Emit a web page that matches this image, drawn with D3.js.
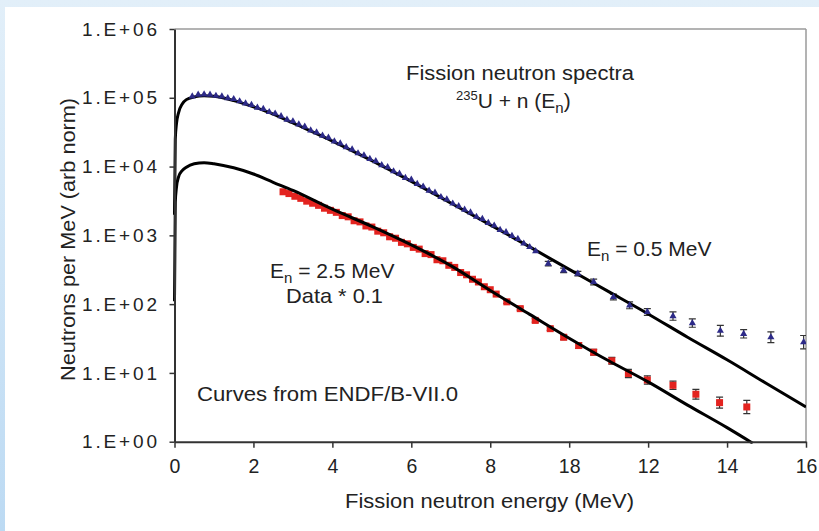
<!DOCTYPE html>
<html>
<head>
<meta charset="utf-8">
<script src="https://cdn.jsdelivr.net/npm/d3@7"></script>
<style>
  body { margin: 0; background: #fff; }
  svg { display: block; font-family: "Liberation Sans", Arial, sans-serif; }
</style>
</head>
<body>
<svg id="chart" width="819" height="531"></svg>
<script>
// ENDF/B-VII.0 curves
var curveE = [0, 0.02, 0.05, 0.1, 0.2, 0.3, 0.5, 0.75, 1.0, 1.5, 2, 2.5, 3, 4, 5, 6, 7, 8, 9, 10, 11, 12, 13, 14, 15, 16]
var curveHigh = [2000, 25000, 42000, 60000, 82000, 94000, 103000, 107000, 105000, 91000, 74000, 58000, 43000,
                 23500, 12200, 6100, 2950, 1420, 680, 320, 152, 72, 33, 15.5, 7, 3.2]
var curveLowE = [0, 0.02, 0.05, 0.1, 0.2, 0.3, 0.5, 0.75, 1.0, 1.5, 2, 2.5, 3, 4, 5, 6, 7, 8, 9, 10, 11, 12, 13, 14, 14.65]
var curveLow = [110, 3000, 5000, 7000, 8800, 9800, 11000, 11400, 11000, 9600, 7800, 5900, 4500,
                2400, 1350, 725, 363, 158, 71, 32, 15, 7.4, 3.4, 1.6, 0.95]

// En = 0.5 MeV data (blue)
var blueE = [0.45, 0.6, 0.75, 0.9, 1.05, 1.2, 1.35, 1.5, 1.65, 1.8, 1.95, 2.1, 2.25, 2.4, 2.55, 2.7, 2.85, 3.0,
             3.15, 3.3, 3.45, 3.6, 3.75, 3.9, 4.05, 4.2, 4.35, 4.5, 4.65, 4.8, 4.95, 5.1, 5.25, 5.4, 5.55, 5.7,
             5.85, 6.0, 6.15, 6.3, 6.45, 6.6, 6.75, 6.9, 7.05, 7.2, 7.35, 7.5, 7.65, 7.8, 7.95, 8.1, 8.25, 8.4,
             8.55, 8.7, 8.85, 9.0, 9.15,
             9.47, 9.86, 10.22, 10.62, 11.12, 11.53, 11.98, 12.63, 13.12, 13.83, 14.42, 15.11, 15.94]
var blueVal = [105000, 111000, 112000, 111000, 107000, 105000, 99000, 96000, 89000, 83000, 79000, 72000,
               69000, 62000, 59000, 54000, 48000, 45500, 41000, 38000, 33500, 31300, 28100, 26300, 23200, 21700,
               19200, 17800, 15600, 14600, 12900, 12000, 10500, 9800, 8550, 7900, 6850, 6450, 5600, 5130, 4470,
               4180, 3610, 3330, 2900, 2660, 2360, 2160, 1860, 1730, 1520, 1390, 1200, 1110, 980, 890, 760, 676, 590,
               388, 310, 278, 210, 127, 96, 77, 67, 53, 41, 37, 33, 28]
var blueErr = [0, 0, 0, 0, 0, 0, 0, 0, 0, 0, 0, 0, 0, 0, 0, 0, 0, 0, 0, 0, 0, 0, 0, 0, 0, 0, 0, 0, 0, 0,
               0, 0, 0, 0, 0, 0, 0, 0, 0, 0, 0, 0, 0, 0, 0, 0, 0, 0, 0, 0, 0, 0, 0, 0, 0, 0, 0, 0, 0,
               0.08, 0.08, 0.08, 0.1, 0.1, 0.12, 0.12, 0.15, 0.15, 0.2, 0.15, 0.2, 0.25]

// En = 2.5 MeV data * 0.1 (red)
var redE = [2.75, 2.9, 3.05, 3.2, 3.35, 3.5, 3.65, 3.8, 3.95, 4.1, 4.25, 4.4, 4.55, 4.7, 4.85, 5.0, 5.15, 5.3,
            5.45, 5.6, 5.75, 5.9, 6.05, 6.2, 6.35, 6.5, 6.65, 6.8, 6.95, 7.1, 7.25, 7.4, 7.55, 7.7, 7.85, 8.0, 8.15,
            8.42, 8.76, 9.14, 9.52, 9.86, 10.24, 10.62, 11.08, 11.5, 11.98, 12.63, 13.21, 13.81, 14.5]
var redVal = [4300, 4050, 3700, 3450, 3140, 2930, 2730, 2480, 2310, 2160, 1940, 1860, 1630, 1570, 1370, 1320,
              1150, 1090, 953, 908, 791, 753, 668, 631, 543, 525, 442, 427, 367, 342, 288, 267, 230, 210, 179, 162, 140,
              108, 86, 58, 44, 33, 25, 20, 15, 9.8, 7.9, 6.6, 4.9, 3.7, 3.2]
var redErr = [0, 0, 0, 0, 0, 0, 0, 0, 0, 0, 0, 0, 0, 0, 0, 0, 0, 0, 0, 0, 0, 0, 0, 0, 0, 0, 0, 0, 0, 0, 0, 0, 0, 0, 0, 0, 0,
              0.05, 0.05, 0.06, 0.06, 0.08, 0.1, 0.1, 0.12, 0.15, 0.15, 0.15, 0.18, 0.2, 0.25]

var xTicks = [0, 2, 4, 6, 8, 10, 12, 14, 16]
var xTickLabels = ["0", "2", "4", "6", "8", "18", "12", "14", "16"]
var yTicks = [1, 10, 100, 1000, 10000, 100000, 1000000]
var yTickLabels = ["1.E+00", "1.E+01", "1.E+02", "1.E+03", "1.E+04", "1.E+05", "1.E+06"]

var svg = d3.select("#chart")
var W = 819, H = 531
var pLeft = 174.5, pRight = 806, pTop = 29, pBottom = 441.7

// light blue frame
var grad = svg.append("defs").append("linearGradient").attr("id", "bg")
    .attr("x1", 0).attr("y1", 0).attr("x2", 0).attr("y2", 1)
grad.append("stop").attr("offset", "0%").attr("stop-color", "#e2eff9")
grad.append("stop").attr("offset", "100%").attr("stop-color", "#bcdaf3")
svg.append("rect").attr("width", W).attr("height", H).attr("fill", "url(#bg)")
svg.append("rect").attr("x", 5).attr("y", 7).attr("width", W - 5).attr("height", H - 7).attr("fill", "#fff")

var x = d3.scaleLinear().domain([0, 16]).range([pLeft, pRight])
var y = d3.scaleLog().domain([1, 1e6]).range([pBottom, pTop])

svg.append("defs").append("clipPath").attr("id", "clip")
  .append("rect").attr("x", pLeft - 2).attr("y", pTop).attr("width", pRight - pLeft + 2).attr("height", pBottom - pTop + 2)

// frame top / right
svg.append("line").attr("x1", pLeft).attr("x2", pRight).attr("y1", pTop).attr("y2", pTop)
  .attr("stroke", "#9a9a9a").attr("stroke-width", 1.5)
svg.append("line").attr("x1", pRight).attr("x2", pRight).attr("y1", pTop).attr("y2", pBottom)
  .attr("stroke", "#9a9a9a").attr("stroke-width", 1.5)

var g = svg.append("g").attr("clip-path", "url(#clip)")

function errBars(E, V, Er) {
  var pts = E.map((e, i) => ({e: e, v: V[i], err: Er[i]})).filter(d => d.err > 0)
  var eb = g.append("g").attr("stroke", "#333").attr("stroke-width", 1.2)
  eb.selectAll("line.v").data(pts).join("line").attr("class", "v")
    .attr("x1", d => x(d.e)).attr("x2", d => x(d.e))
    .attr("y1", d => y(d.v * (1 + d.err))).attr("y2", d => y(d.v / (1 + d.err)))
  eb.selectAll("line.t").data(pts).join("line").attr("class", "t")
    .attr("x1", d => x(d.e) - 3.5).attr("x2", d => x(d.e) + 3.5)
    .attr("y1", d => y(d.v * (1 + d.err))).attr("y2", d => y(d.v * (1 + d.err)))
  eb.selectAll("line.b").data(pts).join("line").attr("class", "b")
    .attr("x1", d => x(d.e) - 3.5).attr("x2", d => x(d.e) + 3.5)
    .attr("y1", d => y(d.v / (1 + d.err))).attr("y2", d => y(d.v / (1 + d.err)))
}

errBars(blueE, blueVal, blueErr)
errBars(redE, redVal, redErr)

// red squares
g.selectAll(".red").data(redE).join("rect").attr("class", "red")
  .attr("x", d => x(d) - 3.5).attr("y", (d, i) => y(redVal[i]) - 3.5)
  .attr("width", 7).attr("height", 7).attr("fill", "#e3231f")

// curves
var line = d3.line().x(d => x(d[0])).y(d => y(d[1])).curve(d3.curveMonotoneX)
g.append("path").datum(curveE.map((e, i) => [e, curveHigh[i]]))
  .attr("d", line).attr("fill", "none").attr("stroke", "#000").attr("stroke-width", 3)
g.append("path").datum(curveLowE.map((e, i) => [e, curveLow[i]]))
  .attr("d", line).attr("fill", "none").attr("stroke", "#000").attr("stroke-width", 3)

// blue triangles (drawn over the curve)
var tri = d3.symbol().type(d3.symbolTriangle).size(22)
g.selectAll(".blue").data(blueE).join("path").attr("class", "blue")
  .attr("transform", (d, i) => `translate(${x(d)},${y(blueVal[i])})`)
  .attr("d", tri).attr("fill", "#2d2a88")

// axes
var xAxis = svg.append("g").attr("transform", `translate(0,${pBottom})`)
  .call(d3.axisBottom(x).tickValues(xTicks).tickFormat((d, i) => xTickLabels[i])
    .tickSize(6).tickSizeOuter(0).tickPadding(11))
xAxis.select(".domain").attr("stroke", "#333").attr("stroke-width", 2)
xAxis.selectAll(".tick line").attr("stroke", "#333").attr("stroke-width", 1.5)
xAxis.selectAll("text").attr("font-size", 19.5).attr("fill", "#222")
  .attr("font-family", "'Liberation Sans', Arial, sans-serif")

var yAxis = svg.append("g").attr("transform", `translate(${pLeft},0)`)
  .call(d3.axisLeft(y).tickValues(yTicks).tickFormat((d, i) => yTickLabels[i])
    .tickSize(5).tickSizeOuter(0).tickPadding(12.5))
yAxis.select(".domain").attr("stroke", "#333").attr("stroke-width", 2)
yAxis.selectAll(".tick line").attr("stroke", "#333").attr("stroke-width", 1.5)
yAxis.selectAll("text").attr("font-size", 19).attr("fill", "#222")
  .attr("font-family", "'Liberation Sans', Arial, sans-serif")
  .attr("textLength", 75).attr("lengthAdjust", "spacing")

// axis titles
svg.append("text").attr("x", 345).attr("y", 508).attr("font-size", 20).attr("fill", "#222")
  .attr("textLength", 289).attr("lengthAdjust", "spacingAndGlyphs")
  .text("Fission neutron energy (MeV)")
svg.append("text").attr("transform", "translate(75,239.5) rotate(-90)").attr("text-anchor", "middle")
  .attr("font-size", 21).attr("fill", "#222").attr("textLength", 283).attr("lengthAdjust", "spacingAndGlyphs")
  .text("Neutrons per MeV (arb norm)")

// annotations
svg.append("text").attr("x", 406).attr("y", 80).attr("font-size", 20).attr("fill", "#222")
  .attr("textLength", 228).attr("lengthAdjust", "spacingAndGlyphs").text("Fission neutron spectra")

var t2 = svg.append("text").attr("x", 456).attr("y", 108).attr("font-size", 21).attr("fill", "#222")
t2.append("tspan").attr("font-size", 13).attr("dy", -8).text("235")
t2.append("tspan").attr("dy", 8).text("U + n (E")
t2.append("tspan").attr("font-size", 15).attr("dy", 5).text("n")
t2.append("tspan").attr("dy", -5).text(")")

function enLabel(x0, y0, txt) {
  var t = svg.append("text").attr("x", x0).attr("y", y0).attr("font-size", 21).attr("fill", "#222")
  t.append("tspan").text("E")
  t.append("tspan").attr("font-size", 15).attr("dy", 5).text("n")
  t.append("tspan").attr("dy", -5).text(txt)
}
enLabel(587, 256, " = 0.5 MeV")
enLabel(270, 278, " = 2.5 MeV")

svg.append("text").attr("x", 286).attr("y", 303).attr("font-size", 21).attr("fill", "#222")
  .attr("textLength", 97).attr("lengthAdjust", "spacingAndGlyphs").text("Data * 0.1")
svg.append("text").attr("x", 197).attr("y", 401).attr("font-size", 20).attr("fill", "#222")
  .attr("textLength", 261).attr("lengthAdjust", "spacingAndGlyphs").text("Curves from ENDF/B-VII.0")
</script>
</body>
</html>
